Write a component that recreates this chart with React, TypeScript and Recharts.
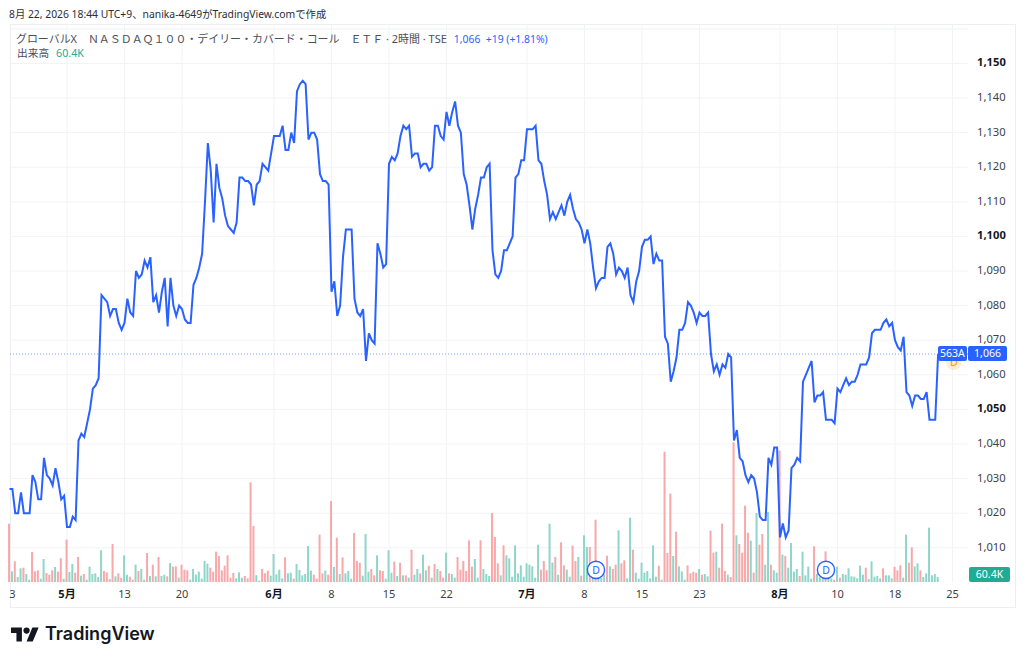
import React from 'react'
import {
  ComposedChart,
  Line,
  Bar,
  Cell,
  XAxis,
  YAxis,
  CartesianGrid,
  ReferenceLine,
  ReferenceDot
} from 'recharts'

// closes per 2h bar, ten bars a row
const closes = [
  1027, 1027, 1020, 1020, 1026, 1020, 1020, 1020, 1031, 1029,
  1024, 1024, 1036, 1031, 1030, 1028, 1033, 1029, 1024, 1025,
  1016, 1016, 1019, 1018, 1041, 1043, 1042, 1046, 1050, 1056,
  1057, 1059, 1083, 1082, 1081, 1077, 1079, 1079, 1075, 1073,
  1075, 1082, 1078, 1077, 1090, 1088, 1089, 1093, 1091, 1094,
  1081, 1083, 1078, 1084, 1088, 1074, 1088, 1080, 1077, 1080,
  1079, 1076, 1075, 1075, 1086, 1088, 1091, 1095, 1110, 1127,
  1119, 1104, 1121, 1114, 1111, 1106, 1103, 1102, 1101, 1104,
  1117, 1117, 1116, 1116, 1115, 1109, 1115, 1116, 1121, 1120,
  1119, 1124, 1129, 1129, 1129, 1132, 1125, 1125, 1130, 1127,
  1142, 1144, 1145, 1144, 1128, 1130, 1130, 1128, 1118, 1116,
  1116, 1115, 1084, 1087, 1077, 1080, 1094, 1102, 1102, 1102,
  1082, 1078, 1077, 1079, 1064, 1072, 1070, 1069, 1098, 1095,
  1091, 1092, 1121, 1123, 1122, 1124, 1129, 1132, 1131, 1132,
  1123, 1124, 1124, 1120, 1121, 1121, 1119, 1120, 1132, 1132,
  1129, 1128, 1136, 1132, 1136, 1139, 1132, 1130, 1118, 1115,
  1109, 1102, 1108, 1112, 1117, 1117, 1120, 1121, 1096, 1089,
  1088, 1090, 1096, 1096, 1098, 1100, 1117, 1118, 1122, 1122,
  1131, 1131, 1131, 1132, 1122, 1121, 1116, 1112, 1105, 1107,
  1105, 1107, 1109, 1106, 1110, 1112, 1108, 1105, 1104, 1102,
  1098, 1102, 1098, 1091, 1085, 1087, 1088, 1088, 1097, 1098,
  1095, 1089, 1091, 1090, 1088, 1091, 1083, 1081, 1087, 1090,
  1097, 1099, 1099, 1100, 1092, 1095, 1093, 1093, 1071, 1069,
  1058, 1061, 1065, 1073, 1073, 1075, 1081, 1080, 1078, 1075,
  1078, 1077, 1077, 1078, 1066, 1061, 1063, 1060, 1063, 1062,
  1066, 1065, 1041, 1044, 1036, 1035, 1031, 1029, 1031, 1030,
  1026, 1019, 1018, 1018, 1036, 1034, 1039, 1039, 1013, 1017,
  1013, 1015, 1033, 1034, 1036, 1035, 1058, 1060, 1062, 1064,
  1052, 1054, 1054, 1055, 1047, 1047, 1047, 1046, 1056, 1055,
  1057, 1059, 1057, 1058, 1058, 1060, 1063, 1063, 1063, 1065,
  1072, 1073, 1073, 1073, 1075, 1076, 1074, 1075, 1070, 1068,
  1067, 1071, 1055, 1054, 1051, 1054, 1054, 1053, 1053, 1055,
  1047, 1047, 1047, 1066
]

// volume in thousands
const volumes = [
  700, 128, 248, 60, 164, 172, 96, 28, 360, 128,
  140, 40, 276, 108, 88, 140, 180, 124, 284, 40,
  508, 120, 216, 112, 300, 76, 96, 28, 184, 96,
  104, 60, 380, 132, 116, 36, 456, 68, 104, 48,
  320, 88, 64, 28, 208, 132, 156, 28, 348, 72,
  208, 68, 300, 72, 88, 68, 228, 184, 188, 52,
  208, 148, 140, 28, 156, 88, 124, 40, 252, 220,
  172, 124, 364, 312, 140, 196, 320, 52, 108, 44,
  116, 52, 72, 44, 1196, 672, 80, 16, 156, 104,
  136, 76, 336, 92, 148, 44, 296, 104, 112, 40,
  216, 144, 80, 96, 432, 136, 88, 40, 568, 104,
  136, 88, 972, 180, 532, 96, 296, 104, 132, 40,
  588, 252, 232, 76, 576, 124, 156, 80, 320, 140,
  132, 40, 380, 112, 244, 72, 232, 80, 80, 52,
  388, 88, 156, 104, 328, 140, 196, 52, 216, 156,
  132, 52, 352, 104, 96, 52, 300, 148, 252, 132,
  500, 184, 276, 52, 500, 156, 96, 72, 828, 540,
  224, 80, 440, 320, 284, 64, 440, 104, 200, 64,
  224, 208, 188, 52, 448, 148, 252, 140, 700, 232,
  300, 88, 476, 200, 148, 64, 436, 252, 300, 76,
  560, 420, 420, 88, 748, 68, 52, 88, 316, 188,
  156, 208, 620, 224, 260, 44, 772, 388, 112, 40,
  232, 112, 132, 44, 440, 64, 196, 28, 1564, 348,
  1060, 312, 604, 188, 128, 28, 200, 104, 124, 112,
  156, 88, 96, 68, 616, 352, 364, 172, 700, 132,
  88, 60, 1676, 560, 456, 352, 916, 592, 496, 112,
  828, 448, 576, 208, 840, 208, 140, 112, 1576, 328,
  312, 172, 468, 124, 156, 72, 364, 80, 184, 40,
  428, 96, 60, 44, 368, 60, 44, 28, 184, 52,
  96, 88, 164, 68, 64, 44, 196, 88, 172, 36,
  248, 64, 72, 44, 164, 80, 80, 44, 184, 140,
  200, 52, 568, 232, 416, 188, 224, 140, 60, 104,
  652, 80, 96, 60.4
]

// r = closed down, t = closed up
const directions = [
  'rtrttrttrr', 'rttrrrtrrt', 'rttrrtrttt', 'tttrrrrtrr', 'ttrrtrttrt',
  'rtrttrtrrt', 'rrrttttttt', 'rrrrrrrrrt', 'ttrrrrttrr', 'rtttttrttr',
  'ttttttrrrr', 'trrtrtrttt', 'rrrtttrrtr', 'rtttrtrtrt', 'rttrttrtrt',
  'rrtrttrrrr', 'rrttrtttrr', 'rtrttttttt', 'tttttrrrtt', 'rtrrttrrtr',
  'ttrtrtttrt', 'rrtrrttrtt', 'ttttttrtrr', 'rtrtttrrrr', 'trttrrtrrr',
  'trrtrrrrtr', 'trrttrttrt', 'rttttrtttt', 'rtttrttrtr', 'ttttttttrt',
  'ttttrtttrr', 'rttrrttrtt', 'tttt'
].join('')

const priceTicks = [
  1010, 1020, 1030, 1040, 1050, 1060, 1070, 1080, 1090, 1100, 1110, 1120, 1130, 1140, 1150
]
const priceGrid = [...priceTicks, 1160]
const boldPrices = [1050, 1100, 1150]

const dateTickBars = [1, 20, 40, 60, 92, 112, 132, 152, 180, 200, 220, 240, 268, 288, 308, 328]
const dateTickLabels = [
  '3', '5月', '13', '20', '6月', '8', '15', '22', '7月', '8', '15', '23', '8月', '10', '18', '25'
]
const dateGrid = dateTickBars.slice(1)

const lastPrice = 1066
const dividends = [
  { bar: 204, level: 1003.6, color: '#2962ff', upcoming: false },
  { bar: 284, level: 1003.6, color: '#2962ff', upcoming: false },
  { bar: 328.5, level: 1063.7, color: '#ff9800', upcoming: true }
]

const chartData = closes.map((close, i) => ({
  bar: i,
  close,
  volume: volumes[i]
}))

const FONT = '"Noto Sans", "Noto Sans CJK JP", sans-serif'
const TEXT = '#3b3f49'
const GRID = '#f2f3f6'
const BLUE = '#2962ff'
const TEAL = '#22ab94'

const PriceTick = ({ x, y, payload }: any) => (
  <text
    x={x + 1}
    y={y + 3}
    fontFamily={FONT}
    fontSize={11.2}
    fontWeight={boldPrices.includes(payload.value) ? 700 : 400}
    fill={boldPrices.includes(payload.value) ? '#131722' : TEXT}
  >
    {payload.value.toLocaleString('en-US')}
  </text>
)

const DateTick = ({ x, payload }: any) => {
  const label = dateTickLabels[dateTickBars.indexOf(payload.value)]
  const isMonth = label.endsWith('月')
  return (
    <text
      x={x}
      y={598}
      textAnchor="middle"
      fontFamily={FONT}
      fontSize={11}
      fontWeight={isMonth ? 700 : 400}
      fill={isMonth ? '#131722' : TEXT}
    >
      {label}
    </text>
  )
}

const DividendMark = ({ cx, cy, color, upcoming }: any) => (
  <g>
    {upcoming && <circle cx={cx} cy={cy} r={8} fill={color} fillOpacity={0.18} />}
    <circle
      cx={cx}
      cy={cy}
      r={upcoming ? 5 : 8.6}
      fill={upcoming ? 'none' : '#fff'}
      stroke={upcoming ? 'none' : color}
      strokeWidth={1.4}
    />
    <text
      x={cx}
      y={cy + 3.8}
      textAnchor="middle"
      fontFamily={FONT}
      fontSize={10.5}
      fill={color}
    >
      D
    </text>
  </g>
)

const badge = (left: number, top: number, width: number, height: number, bg: string): React.CSSProperties => ({
  position: 'absolute',
  left,
  top,
  width,
  height,
  lineHeight: `${height}px`,
  background: bg,
  color: '#fff',
  fontSize: 10.5,
  textAlign: 'center',
  borderRadius: 2
})

export default function App() {
  return (
    <div style={{ position: 'absolute', left: 0, top: 0, width: 1024, height: 661, background: '#fff', fontFamily: FONT, overflow: 'hidden' }}>
      <div style={{ position: 'absolute', left: 9, top: 6, fontSize: 10.35, color: '#2a2e39', whiteSpace: 'nowrap' }}>
        8月 22, 2026 18:44 UTC+9、nanika-4649がTradingView.comで作成
      </div>

      <div style={{ position: 'absolute', left: 9.5, top: 24, width: 1004, height: 582, border: '1px solid #eceef2' }} />

      <ComposedChart
        width={1024}
        height={661}
        data={chartData}
        margin={{ top: 24, right: 0, bottom: 53, left: 9.5 }}
        style={{ position: 'absolute', left: 0, top: 0 }}
      >
        <CartesianGrid
          yAxisId="price"
          stroke={GRID}
          horizontalValues={priceGrid}
          verticalValues={dateGrid}
        />
        <XAxis
          dataKey="bar"
          type="number"
          domain={[0, 333.4]}
          ticks={dateTickBars}
          interval={0}
          height={26}
          axisLine={false}
          tickLine={false}
          tick={<DateTick />}
        />
        <YAxis
          yAxisId="price"
          orientation="right"
          type="number"
          domain={[1000.1, 1161.4]}
          ticks={priceTicks}
          interval={0}
          width={56}
          axisLine={false}
          tickLine={false}
          tick={<PriceTick />}
        />
        <YAxis yAxisId="volume" type="number" domain={[0, 6696]} hide />
        <Bar yAxisId="volume" dataKey="volume" barSize={2} isAnimationActive={false}>
          {chartData.map((row, i) => (
            <Cell key={row.bar} fill={directions[i] === 't' ? '#90d5c9' : '#f9a8a9'} />
          ))}
        </Bar>
        <ReferenceLine
          yAxisId="price"
          y={lastPrice}
          stroke={BLUE}
          strokeOpacity={0.6}
          strokeDasharray="1 2"
        />
        <Line
          yAxisId="price"
          dataKey="close"
          type="linear"
          stroke={BLUE}
          strokeWidth={2}
          dot={false}
          isAnimationActive={false}
        />
        {dividends.map((d) => (
          <ReferenceDot
            key={d.bar}
            yAxisId="price"
            x={d.bar}
            y={d.level}
            shape={(props: any) => <DividendMark {...props} color={d.color} upcoming={d.upcoming} />}
          />
        ))}
      </ComposedChart>

      <div style={{ position: 'absolute', left: 16, top: 30, fontSize: 10.95, color: '#4a4e59', whiteSpace: 'nowrap' }}>
        グローバルX　ＮＡＳＤＡＱ１００・デイリー・カバード・コール　ＥＴＦ · 2時間 · TSE
        <span style={{ color: BLUE, marginLeft: 7, fontSize: 10.4 }}>1,066&nbsp;&nbsp;+19 (+1.81%)</span>
      </div>
      <div style={{ position: 'absolute', left: 17, top: 45, fontSize: 10.7, color: '#4a4e59', whiteSpace: 'nowrap' }}>
        出来高<span style={{ color: TEAL, marginLeft: 7 }}>60.4K</span>
      </div>

      <div style={badge(937.5, 346, 29.5, 15, BLUE)}>563A</div>
      <div style={badge(968, 346, 39, 15, BLUE)}>1,066</div>
      <div style={badge(969, 567, 41, 15, TEAL)}>60.4K</div>

      <svg width={28} height={15} viewBox="0 4 36 18" style={{ position: 'absolute', left: 11, top: 627 }}>
        <path d="M14 22H7V11H0V4h14v18zM28 22h-8l7.5-18h8L28 22z" fill="#131722" />
        <circle cx={20} cy={8} r={4} fill="#131722" />
      </svg>
      <div style={{ position: 'absolute', left: 45, top: 620, fontFamily: 'Inter, sans-serif', fontWeight: 600, fontSize: 18, lineHeight: '28px', color: '#131722' }}>
        TradingView
      </div>
    </div>
  )
}
